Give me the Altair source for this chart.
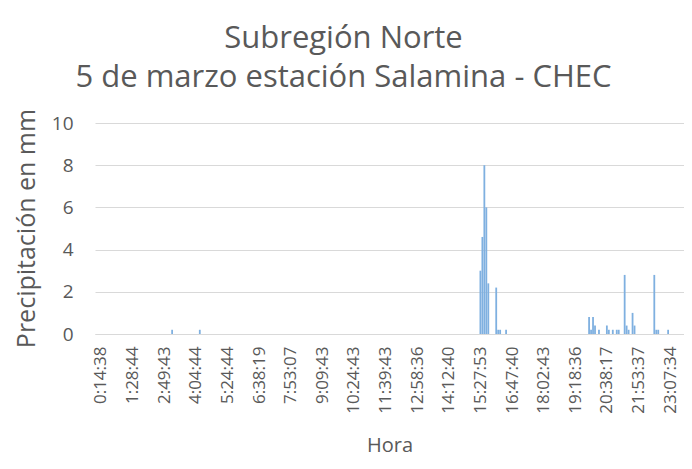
import altair as alt
import pandas as pd

# category index of each reading (labels every 16 readings) and rainfall in mm
bar_idx = [36, 50, 192, 193, 194, 195, 196, 200, 201, 202, 205,
           247, 248, 249, 250, 252, 256, 257, 259, 261, 262,
           265, 266, 267, 269, 270, 280, 281, 282, 287]
bar_mm = [0.2, 0.2, 3.0, 4.6, 8.0, 6.0, 2.4, 2.2, 0.2, 0.2, 0.2,
          0.8, 0.2, 0.8, 0.4, 0.2, 0.4, 0.2, 0.2, 0.2, 0.2,
          2.8, 0.4, 0.2, 1.0, 0.4, 2.8, 0.2, 0.2, 0.2]
tick_labels = ["0:14:38", "1:28:44", "2:49:43", "4:04:44", "5:24:44", "6:38:19",
               "7:53:07", "9:09:43", "10:24:43", "11:39:43", "12:58:36", "14:12:40",
               "15:27:53", "16:47:40", "18:02:43", "19:18:36", "20:38:17", "21:53:37",
               "23:07:34"]
label_step = 16
n_categories = 293
y_ticks = [0, 2, 4, 6, 8, 10]

df = pd.DataFrame({"idx": bar_idx, "mm": bar_mm})
tick_values = [i * label_step for i in range(len(tick_labels))]
arr = "[" + ",".join("'" + t + "'" for t in tick_labels) + "]"

FONT = "Open Sans"
GREY = "#595959"

bars = alt.Chart(df).mark_bar(size=1.8, color="#7fb0e0").encode(
    x=alt.X("idx:Q",
            scale=alt.Scale(domain=[-0.5, n_categories - 0.5], nice=False, zero=False),
            axis=alt.Axis(values=tick_values, labelExpr=arr + "[datum.value/" + str(label_step) + "]",
                          labelAngle=270, labelFontSize=17, labelColor=GREY, labelFont=FONT,
                          labelPadding=12, ticks=False, grid=False, domainColor="#d9d9d9",
                          title="Hora", titleFont=FONT, titleFontSize=20, titleFontWeight="normal",
                          titleColor=GREY, titleY=117, titleBaseline="alphabetic",
                          labelOverlap=False, labelBound=False, labelFlush=False)),
    y=alt.Y("mm:Q",
            scale=alt.Scale(domain=[0, 10], nice=False),
            axis=alt.Axis(values=y_ticks, labelFontSize=19, labelColor=GREY, labelFont=FONT,
                          labelPadding=22, ticks=False, domain=False, gridColor="#d9d9d9",
                          title="Precipitación en mm", titleFont=FONT, titleFontSize=25,
                          titleFontWeight="normal", titleColor=GREY, titleX=-61, titleY=105,
                          titleBaseline="alphabetic")),
)

chart = bars.properties(
    width=589, height=211,
    autosize=alt.AutoSizeParams(type="none"),
    padding={"left": 87, "top": 115, "right": 0, "bottom": 123},
    title=alt.TitleParams(["Subregión Norte", "5 de marzo estación Salamina - CHEC"],
                          font=FONT, fontSize=31, fontWeight="normal", color=GREY,
                          lineHeight=39, anchor="middle", baseline="bottom", dx=-46, offset=-17),
).configure_view(stroke=None)

chart.save("out.html", embed_options={"renderer": "svg", "actions": False})
